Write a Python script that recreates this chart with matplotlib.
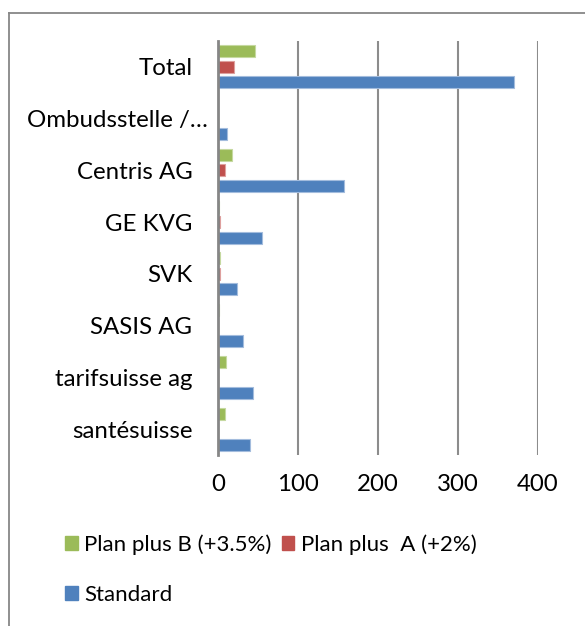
import matplotlib
matplotlib.use("Agg")
import matplotlib.pyplot as plt
from matplotlib.lines import Line2D
from matplotlib.transforms import ScaledTranslation
import numpy as np

plt.rcParams['font.family'] = ['Lato', 'DejaVu Sans']

categories = ["santésuisse", "tarifsuisse ag", "SASIS AG", "SVK", "GE KVG",
              "Centris AG", "Ombudsstelle /…", "Total"]
plan_b = [9, 10, 1.5, 3, 1, 17, 0, 46]
plan_a = [0.5, 0.5, 0, 2, 2, 9, 0, 20]
standard = [40, 44, 31, 24, 55, 158, 11, 370]
series_names = ["Plan plus B (+3.5%)", "Plan plus  A (+2%)", "Standard"]
xticks = [0, 100, 200, 300, 400]

colors = ["#9BBB59", "#C0504D", "#4F81BD"]
edges = ["#C5D9A0", "#DEA09E", "#A3BCDD"]

W, H = 585, 626
FS_AX = 17.3
FS_LEG = 16
fig = plt.figure(figsize=(W / 100, H / 100), dpi=100)
ax = fig.add_axes([218 / W, (H - 455) / H, 320 / W, (455 - 41) / H])

y = np.arange(len(categories))
off = 0.30
h = 0.235
for vals, dy, c, e in zip([plan_b, plan_a, standard], [off, 0, -off], colors, edges):
    ax.barh(y + dy, vals, height=h, color=c, edgecolor=e, linewidth=0.8, zorder=3)

ax.set_xlim(0, 400)
ax.set_ylim(-0.5, len(categories) - 0.5)
ax.set_xticks(xticks)
ax.set_xticklabels([str(t) for t in xticks])
ax.set_yticks(y)
ax.set_yticklabels(categories)
ax.tick_params(axis='both', length=0, labelsize=FS_AX, colors='black')
ax.tick_params(axis='y', pad=18.5)
ax.tick_params(axis='x', pad=13.5)
# the truncated long label sits further right, as in the source
lbl = ax.get_yticklabels()[categories.index("Ombudsstelle /…")]
lbl.set_transform(lbl.get_transform() + ScaledTranslation(16 / 100, 0, fig.dpi_scale_trans))
for s in ['top', 'right', 'bottom']:
    ax.spines[s].set_visible(False)
ax.spines['left'].set_color('#868686')
ax.spines['left'].set_linewidth(2.0)
ax.spines['left'].set_zorder(4)
ax.grid(axis='x', color='#8C8C8C', linewidth=1.5, zorder=1)
ax.set_axisbelow(True)

# outer frame (top and left visible)
fig.add_artist(Line2D([9 / W, 1], [1 - 12.5 / H, 1 - 12.5 / H], color='#878787', lw=1.3,
                      transform=fig.transFigure))
fig.add_artist(Line2D([9 / W, 9 / W], [0, 1 - 12.5 / H], color='#878787', lw=1.3,
                      transform=fig.transFigure))

# legend
handles = [plt.Rectangle((0, 0), 1, 1, color=c) for c in colors]
order = [0, 2, 1]
leg = fig.legend([handles[i] for i in order], [series_names[i] for i in order],
                 ncol=2, loc='upper left', bbox_to_anchor=(65 / W, 1 - 534 / H),
                 frameon=False, fontsize=FS_LEG, handlelength=0.57, handleheight=0.57,
                 handletextpad=0.3, columnspacing=0.45, labelspacing=1.35,
                 borderaxespad=0, borderpad=0)

fig.savefig("out.png", dpi=100, facecolor='white')
